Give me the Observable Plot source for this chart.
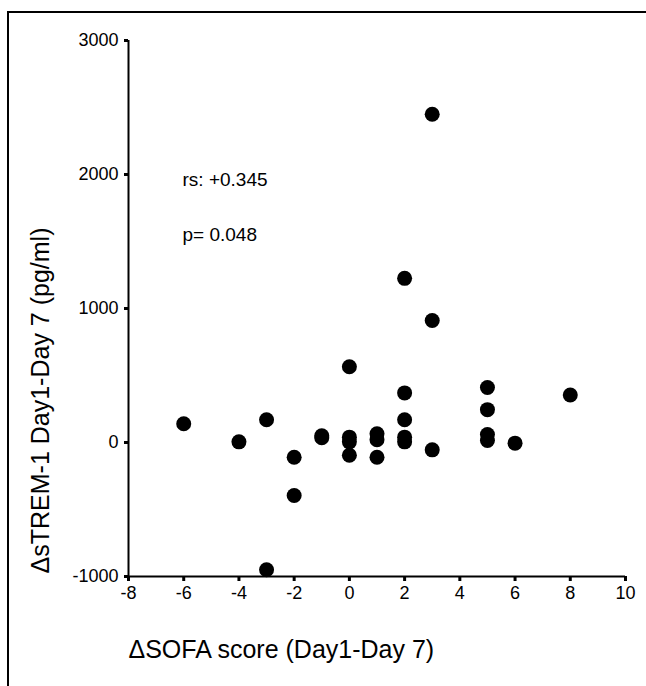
<!DOCTYPE html>
<html>
<head>
<meta charset="utf-8">
<script src="https://cdn.jsdelivr.net/npm/d3@7"></script>
<script src="https://cdn.jsdelivr.net/npm/@observablehq/plot@0.6"></script>
<style>
  html, body { margin: 0; padding: 0; background: #fff; }
  #wrap { position: relative; width: 646px; height: 686px; overflow: hidden; }
  #border { position: absolute; left: 7px; top: 11px; width: 700px; height: 700px;
            border-top: 2px solid #000; border-left: 2px solid #000; }
  #chart { position: absolute; left: 0; top: 0; }
</style>
</head>
<body>
<div id="wrap"><div id="border"></div><div id="chart"></div></div>
<script>
// ΔSOFA score (Day1-Day 7)
const sofaDelta = [-6, -4, -3, -3, -2, -2, -1, -1, 0, 0, 0, 0, 1, 1, 1, 2, 2, 2, 2, 2, 3, 3, 3, 5, 5, 5, 5, 6, 8];
// ΔsTREM-1 Day1-Day 7 (pg/ml)
const tremDelta = [140, 5, 170, -950, -110, -395, 35, 50, 565, 40, 5, -95, 65, 20, -110, 1225, 370, 170, 40, 5, 2450, 910, -55, 410, 245, 60, 15, -5, 355];
const xTicks = [-8, -6, -4, -2, 0, 2, 4, 6, 8, 10];
const yTicks = [-1000, 0, 1000, 2000, 3000];
const xTitle = "ΔSOFA score (Day1-Day 7)";
const yTitle = "ΔsTREM-1 Day1-Day 7 (pg/ml)";
const annotations = ["rs: +0.345", "p= 0.048"];

const points = sofaDelta.map((x, i) => ({x, y: tremDelta[i]}));

const chart = Plot.plot({
  width: 646,
  height: 686,
  marginLeft: 128,
  marginRight: 21,
  marginTop: 40,
  marginBottom: 110,
  style: {fontFamily: "'Liberation Sans', Arial, sans-serif", background: "transparent", color: "#000"},
  x: {domain: [-8, 10]},
  y: {domain: [-1000, 3000]},
  marks: [
    Plot.ruleX([-8], {y1: -1000, y2: 3000, strokeWidth: 2, stroke: "#000"}),
    Plot.ruleY([-1000], {x1: -8, x2: 10, strokeWidth: 2, stroke: "#000"}),
    Plot.axisY({ticks: yTicks, tickSize: 4, strokeWidth: 3, tickPadding: 6, fontSize: 18, label: null, tickFormat: d => String(d)}),
    Plot.axisX({ticks: xTicks, tickSize: 5, strokeWidth: 3, tickPadding: 5, fontSize: 18, label: null, tickFormat: d => String(d)}),
    Plot.dot(points, {x: "x", y: "y", r: 7.5, fill: "#000", stroke: null}),
    Plot.text([annotations[0]], {frameAnchor: "top-left", dx: 54, dy: 132, textAnchor: "start", fontSize: 19, fill: "#000"}),
    Plot.text([annotations[1]], {frameAnchor: "top-left", dx: 54, dy: 187, textAnchor: "start", fontSize: 19, fill: "#000"}),
    Plot.text([xTitle], {frameAnchor: "bottom-left", dx: 0, dy: 81, textAnchor: "start", fontSize: 25, fill: "#000"}),
    Plot.text([yTitle], {frameAnchor: "left", dx: -88, dy: 92, rotate: -90, textAnchor: "middle", fontSize: 25, fill: "#000"})
  ]
});
document.getElementById("chart").appendChild(chart);
</script>
</body>
</html>
